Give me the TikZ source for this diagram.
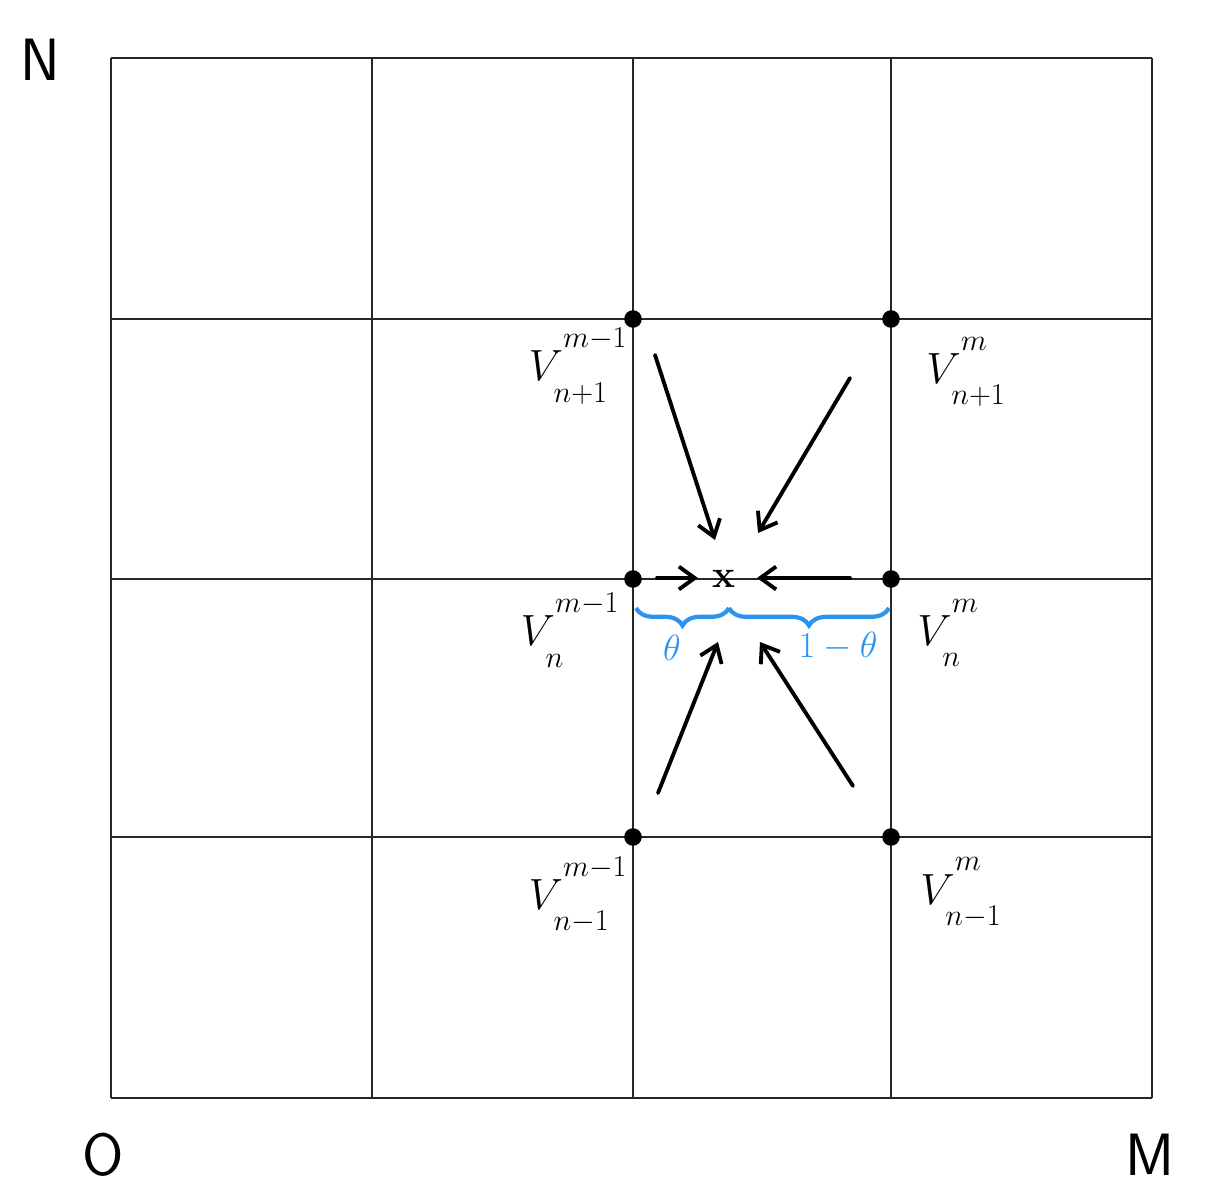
\documentclass[tikz,border=0pt]{standalone}
\usepackage{xcolor}
\usepackage{tikz}
\usetikzlibrary{arrows.meta, positioning, decorations.pathreplacing}
\definecolor{braceblue}{HTML}{2E93EE}
\newcommand{\gval}[2]{$V^{\raisebox{10pt}{$\scriptscriptstyle #1$}}_{\raisebox{-6pt}{$\scriptscriptstyle #2$}}$}

\begin{document}
\begin{tikzpicture}[
    x=0.02cm, y=-0.02cm,
    gridline/.style={draw=black!85, line width=1.2pt},
    gridpt/.style={circle, fill=black, inner sep=0pt, minimum size=10pt},
    vlabel/.style={inner sep=0pt, font=\fontsize{36}{42}\selectfont},
    axislabel/.style={inner sep=0pt, font=\fontsize{34}{40}\selectfont\sffamily},
    flow/.style={-{Straight Barb[length=9pt, width=13pt]}, line width=2.2pt, line cap=round},
    splitbrace/.style={draw=braceblue, line width=2.4pt, decorate, decoration={brace, mirror, amplitude=10pt}},
    bracelabel/.style={inner sep=0pt, text=braceblue, font=\fontsize{22}{26}\selectfont},
]
\useasboundingbox (0,0) rectangle (1217,1197);

% Grid
\foreach \x in {111,372,633,891,1152}
    \draw[gridline] (\x,58) -- (\x,1098);
\foreach \y in {58,319,579,837,1098}
    \draw[gridline] (111,\y) -- (1152,\y);

% Axis labels
\node[axislabel] (north) at (40,60) {N};
\node[axislabel] (origin) at (103,1155) {O};
\node[axislabel] (east) at (1150,1155) {M};

% Grid points
\node[gridpt] (ul) at (633,319) {};
\node[gridpt] (ur) at (891,319) {};
\node[gridpt] (ml) at (633,579) {};
\node[gridpt] (mr) at (891,579) {};
\node[gridpt] (ll) at (633,837) {};
\node[gridpt] (lr) at (891,837) {};

% Values
\node[vlabel] (vul) at (578,366) {\gval{m-1}{n+1}};
\node[vlabel] (vur) at (966,372) {\gval{m}{n+1}};
\node[vlabel] (vml) at (570,630) {\gval{m-1}{n}};
\node[vlabel] (vmr) at (948,633) {\gval{m}{n}};
\node[vlabel] (vll) at (578,895) {\gval{m-1}{n-1}};
\node[vlabel] (vlr) at (961,893) {\gval{m}{n-1}};

% Interpolated point
\node[inner sep=0pt, font=\fontsize{22}{26}\selectfont\bfseries] (target) at (724,579) {x};

% Arrows
\coordinate (t1) at (655,355);   \coordinate (h1) at (715,540);
\coordinate (t2) at (850,378);   \coordinate (h2) at (758,533);
\coordinate (t3) at (657,578);   \coordinate (h3) at (698,578);
\coordinate (t4) at (850,578);   \coordinate (h4) at (757,578);
\coordinate (t5) at (658,793);   \coordinate (h5) at (718,642);
\coordinate (t6) at (853,786);   \coordinate (h6) at (760,642);
\foreach \i in {1,...,6}
    \draw[flow] (t\i) -- (h\i);

% Split of the cell
\coordinate (bl) at (636,608);
\coordinate (bm) at (729,608);
\coordinate (br) at (889,608);
\draw[splitbrace] (bl) -- (bm);
\draw[splitbrace] (bm) -- (br);
\node[bracelabel] (theta) at (672,648) {$\theta$};
\node[bracelabel] (rest) at (838,646) {$1-\theta$};

\end{tikzpicture}
\end{document}
